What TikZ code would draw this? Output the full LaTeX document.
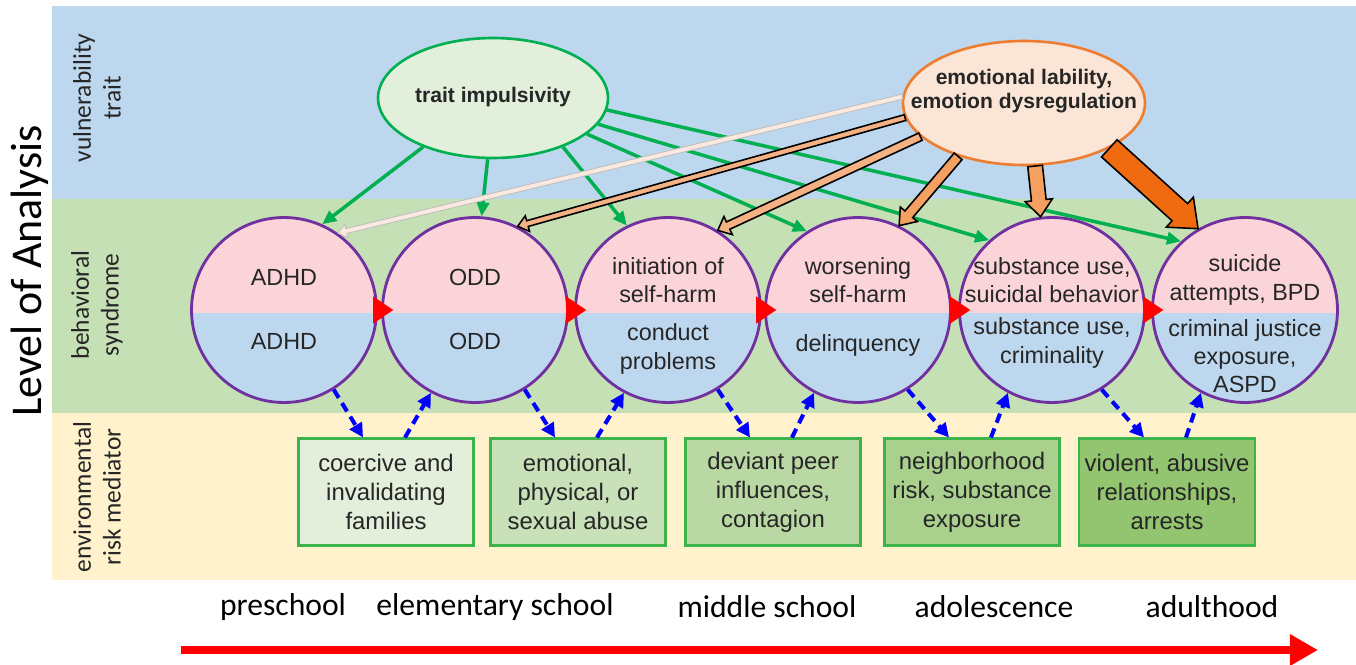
\documentclass[tikz,border=0pt]{standalone}
\usepackage{fontspec}
\setmainfont{Liberation Sans}
\newfontfamily\calfont{Carlito}
\usetikzlibrary{arrows.meta,calc,shapes.geometric}

\definecolor{bandblue}{HTML}{BDD7EE}
\definecolor{bandgreen}{HTML}{C5E0B4}
\definecolor{bandyellow}{HTML}{FFF2CC}
\definecolor{toppink}{HTML}{FAD4D8}
\definecolor{botblue}{HTML}{BDD7EE}
\definecolor{ringpurple}{HTML}{7030A0}
\definecolor{arrowgreen}{HTML}{00B050}
\definecolor{traitfill}{HTML}{E2EFDA}
\definecolor{emofill}{HTML}{FBE5D6}
\definecolor{emoline}{HTML}{ED7D31}
\definecolor{palefill}{HTML}{FBE9DF}
\definecolor{lightorange}{HTML}{F4B183}
\definecolor{midorange}{HTML}{F4A060}
\definecolor{deeporange}{HTML}{F06A10}
\definecolor{boxline}{HTML}{3CB44B}
\definecolor{boxa}{HTML}{E3EFDA}
\definecolor{boxb}{HTML}{C8E1B8}
\definecolor{boxc}{HTML}{BAD8A4}
\definecolor{boxd}{HTML}{AAD08E}
\definecolor{boxe}{HTML}{93C470}
\definecolor{textgray}{HTML}{262626}

% block arrow: style, from, to, half shaft, half head, head length
\newcommand{\fatarrow}[6]{%
  \coordinate (fa-s) at #2;
  \coordinate (fa-e) at #3;
  \coordinate (fa-m) at ($(fa-e)!#6!(fa-s)$);
  \filldraw[#1] ($(fa-s)!#4!90:(fa-e)$) -- ($(fa-m)!#4!90:(fa-e)$)
    -- ($(fa-m)!#5!90:(fa-e)$) -- (fa-e) -- ($(fa-m)!#5!-90:(fa-e)$)
    -- ($(fa-m)!#4!-90:(fa-e)$) -- ($(fa-s)!#4!-90:(fa-e)$) -- cycle;
}

\begin{document}
\begin{tikzpicture}[x=0.02cm, y=-0.02cm]
\tikzset{
  syndrome/.style={circle, draw=ringpurple, line width=1.6pt, minimum size=3.7cm, inner sep=0pt,
    path picture={
      \fill[toppink] (path picture bounding box.north west) rectangle ([yshift=-0.06cm]path picture bounding box.east);
      \fill[botblue] ([yshift=-0.06cm]path picture bounding box.west) rectangle (path picture bounding box.south east);}},
  sytext/.style={align=center, text=textgray, inner sep=0pt, font=\fontsize{13.3}{16}\selectfont},
  riskbox/.style={draw=boxline, line width=1.2pt, minimum width=3.5cm, minimum height=2.14cm,
    align=center, text=textgray, font=\fontsize{13.6}{16.5}\selectfont},
  traitlink/.style={arrowgreen, line width=2pt, -{Triangle[length=8pt,width=7pt]}},
  mediates/.style={blue, line width=2.3pt, dash pattern=on 5.5pt off 3.5pt, -{Triangle[length=8pt,width=8pt]}},
  progress/.style={red, line width=0.1pt, -{Triangle[length=11.4pt,width=15.4pt]}},
  bandlabel/.style={rotate=90, align=center, text=textgray, font=\calfont\fontsize{14.5}{17}\selectfont},
  agelabel/.style={text=black, font=\calfont\fontsize{18}{20}\selectfont},
}
\useasboundingbox (0,0) rectangle (1356,665);

% bands
\fill [bandblue]   (52,6)   rectangle (1356,199);
\fill [bandgreen]  (52,199) rectangle (1356,413);
\fill [bandyellow] (52,413) rectangle (1356,580);

\node [rotate=90, font=\calfont\fontsize{25}{28}\selectfont] (loa) at (30,271) {Level of Analysis};
\node [bandlabel] (vlab) at (97,98)  {vulnerability\\trait};
\node [bandlabel] (blab) at (97,305) {behavioral\\syndrome};
\node [bandlabel] (elab) at (97,497) {environmental\\risk mediator};

% traits
\node [ellipse, draw=arrowgreen, fill=traitfill, line width=1.5pt, minimum width=4.6cm, minimum height=2.4cm] (imp) at (493,98) {};
\node [ellipse, draw=emoline, fill=emofill, line width=1.5pt, minimum width=4.84cm, minimum height=2.48cm] (emo) at (1024,103) {};

% syndromes
\node [syndrome] (c1) at (284,310)  {};
\node [syndrome] (c2) at (475,310)  {};
\node [syndrome] (c3) at (668,310)  {};
\node [syndrome] (c4) at (858,310)  {};
\node [syndrome] (c5) at (1052,310) {};
\node [syndrome] (c6) at (1245,310) {};

% mediators
\node [riskbox, fill=boxa] (b1) at (386,492)  {coercive and\\invalidating\\families};
\node [riskbox, fill=boxb] (b2) at (578,492)  {emotional,\\physical, or\\sexual abuse};
\node [riskbox, fill=boxc] (b3) at (773,492)  {deviant peer\\influences,\\contagion};
\node [riskbox, fill=boxd] (b4) at (972,492)  {neighborhood\\risk, substance\\exposure};
\node [riskbox, fill=boxe] (b5) at (1167,492) {violent, abusive\\relationships,\\arrests};

% impulsivity links
\draw [traitlink] (imp.215) -- (c1.66);
\draw [traitlink] (imp.265) -- (c2.86);
\draw [traitlink] (imp.325) -- (c3.116);
\draw [traitlink] (imp.339) -- (c4.123);
\draw [traitlink] (imp.346) -- (c5.132);
\draw [traitlink] (imp.354) -- (c6.133);

% dysregulation links
\fatarrow{fill=palefill, draw=gray!50, line width=0.5pt}{(emo.177)}{(c1.55)}{1.4pt}{4pt}{5pt}
\fatarrow{fill=lightorange, draw=black, line width=0.9pt}{(emo.187)}{(c2.63)}{1.7pt}{4.6pt}{5.8pt}
\fatarrow{fill=lightorange, draw=black, line width=0.9pt}{(emo.198)}{(c3.58)}{2.3pt}{5.7pt}{6.5pt}
\fatarrow{fill=midorange, draw=black, line width=0.9pt}{(emo.219)}{(c4.64)}{2.9pt}{6.4pt}{8.5pt}
\fatarrow{fill=midorange, draw=black, line width=0.9pt}{(emo.280)}{(c5.97)}{4.2pt}{7.8pt}{9.5pt}
\fatarrow{fill=deeporange, draw=black, line width=0.9pt}{(emo.332)}{(c6.120)}{6.6pt}{11.5pt}{14pt}

\node [font=\bfseries\fontsize{12}{14}\selectfont, text=textgray] (implab) at (493,97) {trait impulsivity};
\node [font=\bfseries\fontsize{12}{14}\selectfont, text=textgray, align=center] (emolab) at (1024,91) {emotional lability,\\emotion dysregulation};

% progression
\draw [progress] (c1.east) -- ([xshift=0.24cm]c2.west);
\draw [progress] (c2.east) -- ([xshift=0.24cm]c3.west);
\draw [progress] (c3.east) -- ([xshift=0.24cm]c4.west);
\draw [progress] (c4.east) -- ([xshift=0.24cm]c5.west);
\draw [progress] (c5.east) -- ([xshift=0.24cm]c6.west);

% mediator links
\draw [mediates] (c1.-58) -- ([xshift=-0.46cm]b1.north);
\draw [mediates] ([xshift=0.38cm]b1.north) -- (c2.-118);
\draw [mediates] (c2.-58) -- ([xshift=-0.46cm]b2.north);
\draw [mediates] ([xshift=0.38cm]b2.north) -- (c3.-118);
\draw [mediates] (c3.-58) -- ([xshift=-0.46cm]b3.north);
\draw [mediates] ([xshift=0.38cm]b3.north) -- (c4.-118);
\draw [mediates] (c4.-58) -- ([xshift=-0.46cm]b4.north);
\draw [mediates] ([xshift=0.38cm]b4.north) -- (c5.-118);
\draw [mediates] (c5.-58) -- ([xshift=-0.46cm]b5.north);
\draw [mediates] ([xshift=0.38cm]b5.north) -- (c6.-118);

% syndrome texts
\node [sytext] (t1) at (284,277)  {ADHD};
\node [sytext] (u1) at (284,341)  {ADHD};
\node [sytext] (t2) at (475,277)  {ODD};
\node [sytext] (u2) at (475,341)  {ODD};
\node [sytext] (t3) at (668,280)  {initiation of\\self-harm};
\node [sytext] (u3) at (668,349)  {conduct\\problems};
\node [sytext] (t4) at (858,280)  {worsening\\self-harm};
\node [sytext] (u4) at (858,345)  {delinquency};
\node [sytext] (t5) at (1052,280) {substance use,\\suicidal behavior};
\node [sytext] (u5) at (1052,343) {substance use,\\criminality};
\node [sytext] (t6) at (1245,280) {suicide\\attempts, BPD};
\node [sytext] (u6) at (1245,356) {criminal justice\\exposure,\\ASPD};

% ages
\node [agelabel] (a1) at (283,607)  {preschool};
\node [agelabel] (a2) at (495,607)  {elementary school};
\node [agelabel] (a3) at (767,607)  {middle school};
\node [agelabel] (a4) at (994,607)  {adolescence};
\node [agelabel] (a5) at (1212,607) {adulthood};

\coordinate (tl0) at (181,650);
\coordinate (tl1) at (1318,650);
\draw [red, line width=5pt, -{Triangle[length=16pt,width=17pt]}] (tl0) -- (tl1);
\end{tikzpicture}
\end{document}
